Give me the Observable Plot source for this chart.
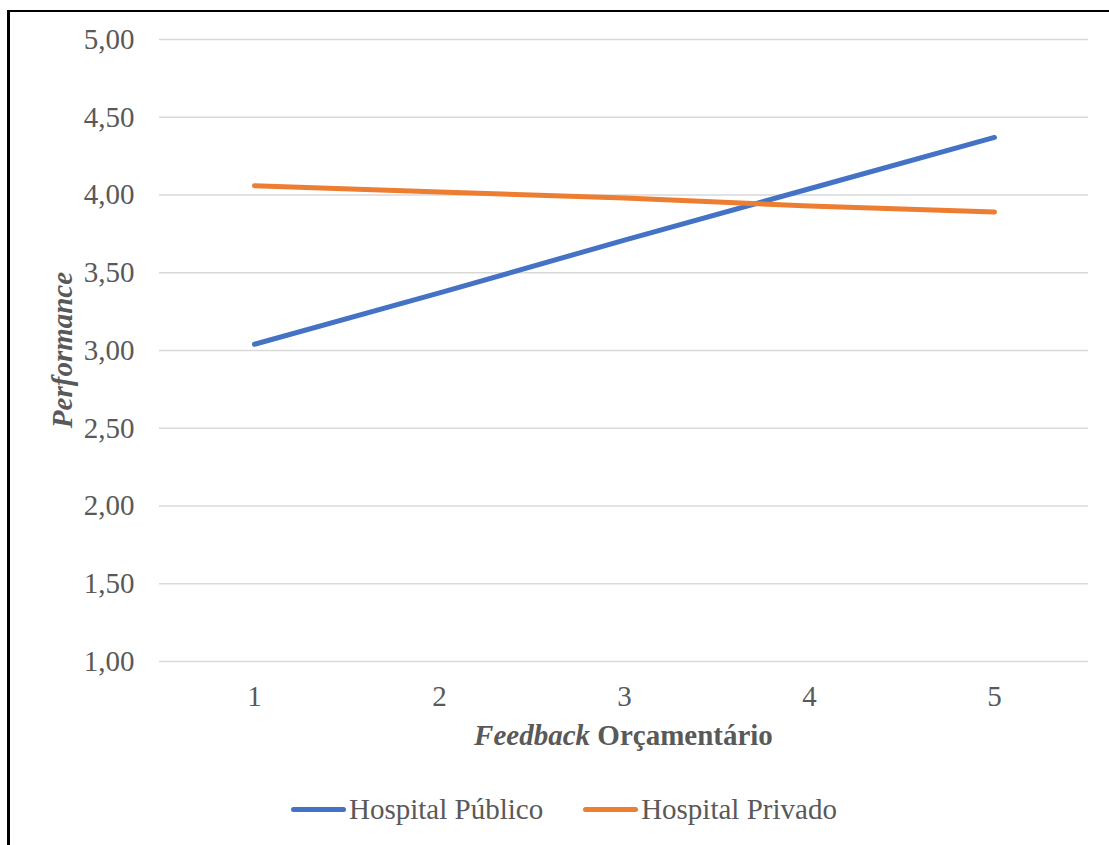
<!DOCTYPE html>
<html>
<head>
<meta charset="utf-8">
<script src="https://cdn.jsdelivr.net/npm/d3@7"></script>
<script src="https://cdn.jsdelivr.net/npm/@observablehq/plot@0.6"></script>
<style>
  body { margin: 0; background: #fff; }
  #wrap { position: relative; width: 1109px; height: 845px; overflow: hidden; background: #fff;
          font-family: "Liberation Serif", "Times New Roman", serif; }
  #frame { position: absolute; left: 7px; top: 10px; width: 1200px; height: 1000px; box-sizing: border-box;
           border-left: 3px solid #000; border-top: 2px solid #000; pointer-events: none; }
  #chart { position: absolute; left: 0; top: 0; }
  #legend { position: absolute; top: 793px; left: 291px; display: flex; align-items: center;
            font-size: 29px; color: #595959; white-space: nowrap; }
  .item { display: flex; align-items: center; }
  .sw { width: 55px; height: 5px; border-radius: 3px; margin-right: 3px; }
  .item + .item { margin-left: 40px; }
</style>
</head>
<body>
<div id="wrap">
  <div id="chart"></div>
  <div id="legend"></div>
  <div id="frame"></div>
</div>
<script>
// Data
const feedback = [1, 2, 3, 4, 5];
const publico = [3.04, 3.37, 3.71, 4.04, 4.37];
const privado = [4.06, 4.02, 3.98, 3.93, 3.89];
const seriesNames = ["Hospital Público", "Hospital Privado"];
const yTicks = [1, 1.5, 2, 2.5, 3, 3.5, 4, 4.5, 5];

const seriesColors = ["#4472C4", "#ED7D31"];

const rows = [
  ...feedback.map((f, i) => ({fb: f, v: publico[i], s: seriesNames[0]})),
  ...feedback.map((f, i) => ({fb: f, v: privado[i], s: seriesNames[1]}))
];

const fmt = d => d.toFixed(2).replace(".", ",");

const plot = Plot.plot({
  width: 1109,
  height: 770,
  marginLeft: 159,
  marginRight: 21,
  marginTop: 39,
  marginBottom: 109,
  style: {fontFamily: '"Liberation Serif", "Times New Roman", serif', fontSize: "29px", color: "#595959", background: "transparent"},
  x: {type: "point", domain: feedback, padding: 0.5, label: null, tickSize: 0, tickPadding: 24},
  y: {domain: [1, 5], ticks: yTicks, tickFormat: fmt, label: null, tickSize: 0, tickPadding: 25},
  color: {domain: seriesNames, range: seriesColors},
  marks: [
    Plot.gridY(yTicks, {stroke: "#d9d9d9", strokeOpacity: 1, strokeWidth: 1.5}),
    Plot.axisX({tickSize: 0, tickPadding: 24, fill: "#595959"}),
    Plot.axisY({ticks: yTicks, tickFormat: fmt, tickSize: 0, tickPadding: 25, fill: "#595959"}),
    Plot.line(rows, {x: "fb", y: "v", z: "s", stroke: "s", strokeWidth: 5, strokeLinecap: "round", strokeLinejoin: "round"})
  ]
});
document.getElementById("chart").appendChild(plot);

// Axis titles with mixed styling
const svg = d3.select(plot);
const xt = svg.append("text")
  .attr("x", (159 + 1088) / 2)
  .attr("y", 745)
  .attr("text-anchor", "middle")
  .attr("fill", "#595959")
  .attr("font-weight", "bold")
  .attr("font-size", "29px");
xt.append("tspan").attr("font-style", "italic").text("Feedback");
xt.append("tspan").text(" Orçamentário");

svg.append("text")
  .attr("transform", "translate(72,350) rotate(-90)")
  .attr("text-anchor", "middle")
  .attr("fill", "#595959")
  .attr("font-weight", "bold")
  .attr("font-style", "italic")
  .attr("font-size", "29px")
  .text("Performance");

// Legend
const legend = d3.select("#legend");
seriesNames.forEach((name, i) => {
  const it = legend.append("div").attr("class", "item");
  it.append("div").attr("class", "sw").style("background", seriesColors[i]);
  it.append("span").text(name);
});
</script>
</body>
</html>
